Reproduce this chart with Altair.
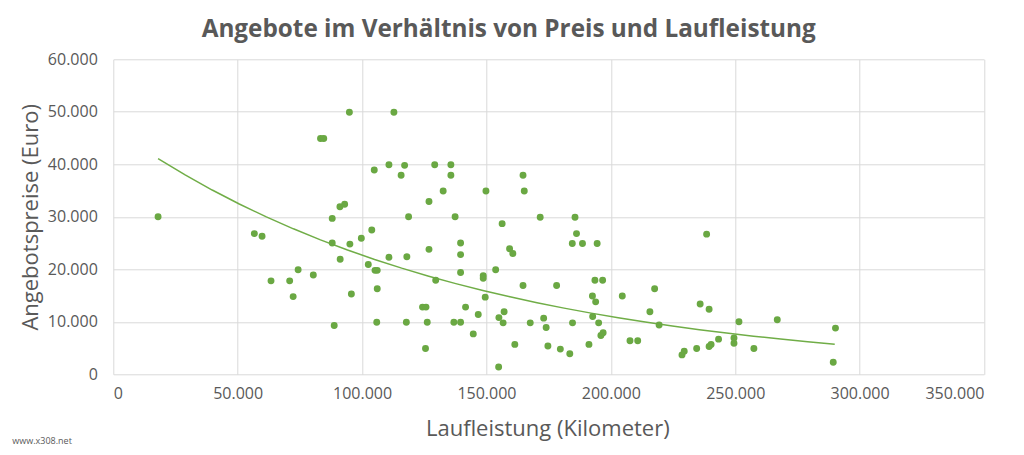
import altair as alt
import pandas as pd

# Laufleistung (km) and Angebotspreis (Euro)
km = [18000, 56700, 59800, 74300, 63400, 70900, 72300, 80400, 94900, 112800,
      83300, 84600, 104900, 110800, 117100, 115700, 129200, 135700, 135700, 132600,
      149800, 91100, 93000, 126900, 88000, 118700, 137400, 103900, 99700, 88000,
      95100, 91200, 110800, 118000, 126900, 139600, 139600, 139600, 148700, 148700,
      149500, 102500, 105200, 106100, 129600, 106100, 95700, 124300, 125700, 141600,
      146700, 88800, 105900, 117800, 126200, 136900, 139600, 144700, 125500, 164700,
      165200, 156300, 171600, 185600, 186200, 184500, 188600, 194500, 159300, 160600,
      153700, 164700, 178200, 193600, 196700, 192600, 193900, 204600, 217600, 155000,
      157100, 156700, 167600, 173000, 174000, 184600, 192700, 195100, 196000, 196900,
      215700, 219400, 161400, 174700, 179700, 183500, 191200, 207700, 210800, 154900,
      228600, 229500, 238500, 235900, 239500, 251500, 266900, 290300, 289400, 234500,
      239500, 240300, 243300, 249500, 249500, 257500]
preis = [30000, 26800, 26300, 19900, 17800, 17800, 14800, 18900, 49900, 49900,
         44900, 44900, 38900, 39900, 39800, 37900, 39900, 39900, 37900, 34900,
         34900, 31900, 32400, 32900, 29700, 30000, 30000, 27500, 25900, 25000,
         24800, 21900, 22300, 22400, 23800, 25000, 22800, 19400, 18800, 18300,
         14700, 20900, 19800, 19800, 17900, 16300, 15300, 12800, 12800, 12800,
         11400, 9300, 9900, 9900, 9900, 9900, 9900, 7700, 4900, 37900,
         34900, 28700, 29900, 29900, 26800, 24900, 24900, 24900, 23900, 23000,
         19900, 16900, 16900, 17900, 17900, 14900, 13800, 14900, 16300, 10800,
         11900, 9800, 9800, 10700, 8900, 9800, 11000, 9800, 7400, 7900,
         11900, 9400, 5700, 5400, 4800, 3900, 5700, 6400, 6400, 1400,
         3700, 4400, 26700, 13400, 12400, 10000, 10400, 8800, 2300, 4900,
         5300, 5700, 6700, 6900, 5900, 4900]

title_text = "Angebote im Verhältnis von Preis und Laufleistung"
x_title = "Laufleistung (Kilometer)"
y_title = "Angebotspreise (Euro)"
watermark = "www.x308.net"

df = pd.DataFrame({"km": km, "preis": preis})

FONT = "Open Sans"
GRAY = "#595959"
GREEN = "#70AD47"

W, H = 870.7, 315

label_expr = "datum.value == 0 ? '0' : replace(format(datum.value, ','), ',', '.')"

x_enc = alt.X("km:Q", scale=alt.Scale(domain=[0, 350000], nice=False),
              axis=alt.Axis(values=[0, 50000, 100000, 150000, 200000, 250000, 300000, 350000],
                            labelExpr=label_expr, title=x_title,
                            titleX=434, titleY=54, titleBaseline="middle",
                            titleAlign="center",
                            labelPadding=11, tickSize=0, domain=False))
y_enc = alt.Y("preis:Q", scale=alt.Scale(domain=[0, 60000], nice=False),
              axis=alt.Axis(values=[0, 10000, 20000, 30000, 40000, 50000, 60000],
                            labelExpr=label_expr, title=y_title,
                            titleX=-83, titleY=H / 2, titleBaseline="middle",
                            titleAlign="center", titleAngle=270,
                            labelPadding=16, tickSize=0, domain=False))

points = alt.Chart(df).mark_circle(size=48, color="#6aa843", opacity=1).encode(
    x=x_enc, y=y_enc)

# exponential trendline (least squares on log of price, as in a spreadsheet trendline)
trend = alt.Chart(df).transform_calculate(
    lnp="log(datum.preis)"
).transform_regression(
    "km", "lnp", method="poly", order=1, extent=[18000, 290000]
).transform_calculate(
    preis="exp(datum.lnp)"
).mark_line(color=GREEN, strokeWidth=1.5).encode(x="km:Q", y="preis:Q")

wm = alt.Chart(pd.DataFrame({"t": [watermark]})).mark_text(
    font=FONT, fontSize=9, color=GRAY, align="left", baseline="middle"
).encode(text="t:N", x=alt.value(-101), y=alt.value(382))

chart = alt.layer(trend, points, wm).properties(
    width=W, height=H,
    title=alt.TitleParams(title_text, font=FONT, fontSize=24.3, fontWeight="bold",
                          color=GRAY, anchor="middle", frame="group", dx=-40,
                          offset=9),
    autosize=alt.AutoSizeParams(type="none"),
    padding={"left": 105.3, "top": 51.3, "right": 32, "bottom": 72.7},
).configure(background="white").configure_view(stroke=None).configure_axis(
    labelFont=FONT, labelFontSize=16, labelColor=GRAY,
    titleFont=FONT, titleFontSize=22, titleColor=GRAY, titleFontWeight="normal",
    gridColor="#d9d9d9", gridWidth=1,
)

chart.save("out.html", embed_options={"renderer": "svg", "actions": False})
